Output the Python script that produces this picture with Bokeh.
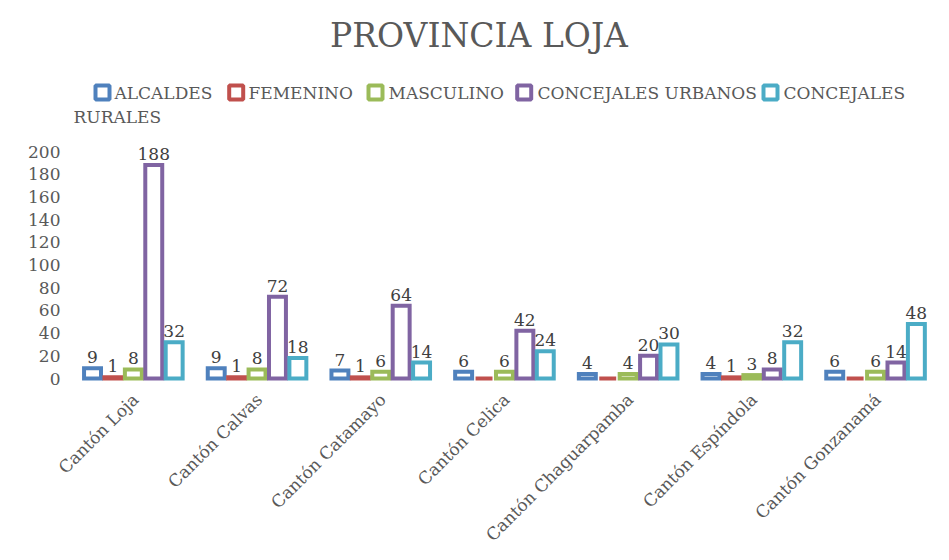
import math
from bokeh.plotting import figure
from bokeh.models import (ColumnDataSource, Range1d, FixedTicker,
                          Label, LabelSet, BoxAnnotation)
from bokeh.transform import dodge
from bokeh.core.properties import value
from bokeh.embed import file_html
from bokeh.resources import INLINE

# ---------------- data ----------------
cantones = ["Cantón Loja", "Cantón Calvas", "Cantón Catamayo", "Cantón Celica",
            "Cantón Chaguarpamba", "Cantón Espíndola", "Cantón Gonzanamá"]
alcaldes = [9, 9, 7, 6, 4, 4, 6]
femenino = [1, 1, 1, 0, 0, 1, 0]
masculino = [8, 8, 6, 6, 4, 3, 6]
concejales_urbanos = [188, 72, 64, 42, 20, 8, 14]
concejales_rurales = [32, 18, 14, 24, 30, 32, 48]
series_names = ["ALCALDES", "FEMENINO", "MASCULINO", "CONCEJALES URBANOS", "CONCEJALES RURALES"]
series_values = [alcaldes, femenino, masculino, concejales_urbanos, concejales_rurales]
colors = ["#4F81BD", "#C0504D", "#9BBB59", "#8064A2", "#4BACC6"]
y_ticks = [0, 20, 40, 60, 80, 100, 120, 140, 160, 180, 200]
title_text = "PROVINCIA LOJA"

FONT = "DejaVu Serif"
GREY = "#595959"

# ---------------- layout constants ----------------
W, H = 941, 552
LEFT, RIGHT = 58, 4          # frame spans x = 58 .. 937
CAT_START = 71               # pixel where the first category slot begins
PX_PER_CAT = 123.7
ZERO_Y = 378                 # pixel row of value 0
PX_PER_UNIT = 1.135
Y_START = -(H - ZERO_Y) / PX_PER_UNIT
Y_END = ZERO_Y / PX_PER_UNIT
X_START = -(CAT_START - LEFT) / PX_PER_CAT
X_END = X_START + (W - LEFT - RIGHT) / PX_PER_CAT

def sx(px):
    return px - LEFT

def sy(py):
    return H - py

p = figure(x_range=Range1d(X_START, X_END), y_range=Range1d(Y_START, Y_END),
           width=W, height=H, output_backend="svg", toolbar_location=None,
           min_border_left=LEFT, min_border_right=RIGHT,
           min_border_top=0, min_border_bottom=0)
p.outline_line_color = None
p.xgrid.visible = False
p.ygrid.visible = False
p.xaxis.visible = False

step = 0.165
bar_w = 0.137

# category slot centres on the numeric x scale
data = {"cat": cantones, "xi": [i + 0.5 for i in range(len(cantones))],
        "zero": [0] * len(cantones)}
for name, vals in zip(series_names, series_values):
    data[name] = vals
src = ColumnDataSource(data)

for i, (name, c) in enumerate(zip(series_names, colors)):
    off = (i - 2) * step
    p.vbar(x=dodge("xi", off), top=name, width=bar_w, bottom=0,
           source=src, fill_color="white", line_color=c, line_width=4,
           line_join="miter")

for i, (name, vals) in enumerate(zip(series_names, series_values)):
    off = (i - 2) * step
    xs = [x for x, v in zip(data["xi"], vals) if v]
    ys = [v for v in vals if v]
    lsrc = ColumnDataSource({"xi": xs, "y": ys, "lbl": [str(v) for v in ys]})
    p.text(x=dodge("xi", off), y="y", text="lbl", source=lsrc,
           text_align="center", text_baseline="alphabetic", y_offset=-11,
           text_font=value(FONT), text_font_size=value("17px"), text_color="#404040")

# category labels (rotated 45 degrees, ending just under each group)
p.add_layout(LabelSet(x="xi", y="zero", text="cat",
                      source=src, angle=math.pi / 4,
                      text_align="right", text_baseline="top", x_offset=-5, y_offset=-11,
                      text_font=value(FONT), text_font_size=value("17px"),
                      text_color=GREY))

# y axis
p.yaxis.ticker = FixedTicker(ticks=y_ticks)
p.yaxis.axis_line_color = None
p.yaxis.major_tick_line_color = None
p.yaxis.minor_tick_line_color = None
p.yaxis.major_label_standoff = -8
p.yaxis.major_label_text_font = FONT
p.yaxis.major_label_text_font_size = "17px"
p.yaxis.major_label_text_color = GREY

# title
p.add_layout(Label(x=sx(478.5), y=sy(46.7) + 12, x_units="screen", y_units="screen",
                   text=title_text, text_align="center", text_baseline="alphabetic",
                   text_font=FONT, text_font_size="33px", text_color=GREY))

# legend (last entry wraps onto a second line, as in the original)
sq_x = [102, 235.7, 375, 523.7, 770]
txt_x = [114, 248, 388, 537, 783]
row_y, row_base = 92, 98.7
wrap_x, wrap_base = 73, 122.7
half = 7
lift = 6
n = len(series_names)
for k, (name, c, qx, tx) in enumerate(zip(series_names, colors, sq_x, txt_x)):
    p.add_layout(BoxAnnotation(left=sx(qx - half), right=sx(qx + half),
                               top=sy(row_y - half), bottom=sy(row_y + half),
                               left_units="screen", right_units="screen",
                               top_units="screen", bottom_units="screen",
                               fill_color="white", fill_alpha=1, line_color=c,
                               line_width=4, line_alpha=1))
    words = name.split(" ")
    first = words[0] if k == n - 1 else name
    p.add_layout(Label(x=sx(tx), y=sy(row_base) + lift, x_units="screen", y_units="screen",
                       text=first, text_baseline="alphabetic",
                       text_font=FONT, text_font_size="17px", text_color=GREY))
    if first != name:
        p.add_layout(Label(x=sx(wrap_x), y=sy(wrap_base) + lift, x_units="screen",
                           y_units="screen", text=" ".join(words[1:]),
                           text_baseline="alphabetic",
                           text_font=FONT, text_font_size="17px", text_color=GREY))

open("out.html", "w").write(file_html(p, INLINE))
